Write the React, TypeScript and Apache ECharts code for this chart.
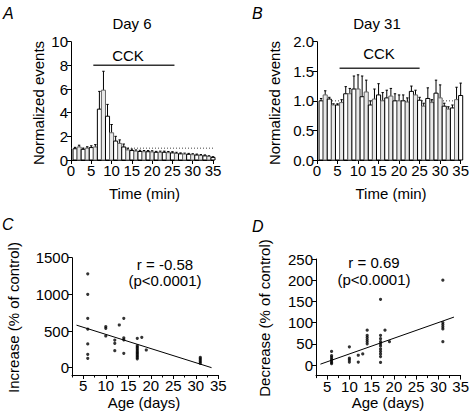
import React, { useEffect, useRef } from "react";
import * as echarts from "echarts";

const FONT = "Liberation Sans, Arial, Helvetica, sans-serif";

// Panel A / B: time bins (min)
const minutes = [1, 2, 3, 4, 5, 6, 7, 8, 9, 10, 11, 12, 13, 14, 15, 16, 17, 18, 19, 20, 21, 22, 23, 24, 25, 26, 27, 28, 29, 30, 31, 32, 33, 34, 35];
const day6Mean = [0.95, 1.1, 0.9, 1.0, 1.05, 1.1, 4.3, 5.9, 3.7, 2.3, 1.6, 1.4, 1.1, 0.85, 0.8, 0.75, 0.72, 0.7, 0.7, 0.68, 0.65, 0.65, 0.65, 0.62, 0.6, 0.55, 0.52, 0.5, 0.48, 0.45, 0.42, 0.38, 0.35, 0.3, 0.22];
const day6Err = [0.12, 0.15, 0.1, 0.12, 0.15, 0.2, 1.5, 1.6, 1.0, 0.7, 0.4, 0.3, 0.25, 0.15, 0.12, 0.1, 0.1, 0.1, 0.1, 0.1, 0.08, 0.1, 0.1, 0.1, 0.1, 0.1, 0.08, 0.08, 0.08, 0.08, 0.08, 0.08, 0.08, 0.06, 0.06];
const day31Mean = [1.0, 1.1, 1.03, 0.93, 0.93, 0.97, 1.12, 1.12, 1.2, 1.2, 1.07, 1.15, 0.93, 1.03, 1.1, 1.0, 1.05, 1.08, 1.0, 1.0, 1.0, 0.98, 1.16, 1.1, 1.01, 0.91, 1.04, 0.97, 1.13, 1.05, 0.91, 0.86, 0.88, 1.02, 1.09];
const day31Err = [0.04, 0.07, 0.03, 0.02, 0.02, 0.05, 0.12, 0.09, 0.22, 0.24, 0.35, 0.2, 0.07, 0.17, 0.19, 0.14, 0.13, 0.13, 0.12, 0.1, 0.1, 0.07, 0.09, 0.08, 0.05, 0.05, 0.18, 0.05, 0.22, 0.22, 0.05, 0.04, 0.05, 0.21, 0.21];
const cckA = [[5.5, 8], [25.5, 8]];
const cckB = [[5.5, 1.55], [25, 1.55]];
const baselineA = [[0, 1], [35, 1]];
const baselineB = [[0, 1], [35, 1]];

// Panel C: increase (% of control) vs age (days)
const incAges = [6, 6, 6, 6, 6, 6, 6, 10, 10, 10, 12, 12, 12, 13, 14, 14, 14, 14, 17, 17, 17, 17, 17, 17, 17, 17, 17, 17, 17, 18, 19, 31, 31, 31, 31, 31];
const incValues = [1280, 1000, 673, 527, 323, 182, 128, 560, 537, 432, 377, 332, 232, 582, 673, 405, 380, 196, 400, 300, 280, 260, 240, 220, 200, 180, 160, 140, 120, 414, 241, 140, 120, 100, 80, 60];
const incFit = [[3.5, 580], [33.5, 0]];

// Panel D: decrease (% of control) vs age (days)
const decAges = [6, 6, 6, 6, 6, 6, 6, 10, 10, 10, 10, 12, 12, 13, 14, 14, 14, 14, 14, 14, 17, 17, 17, 17, 17, 17, 17, 17, 17, 17, 17, 18, 19, 31, 31, 31, 31, 31, 31];
const decValues = [32, 22, 18, 14, 10, 6, 3, 43, 16, 12, 7, 23, 7, 26, 82, 70, 65, 60, 55, 50, 155, 70, 62, 55, 50, 45, 38, 32, 26, 20, 6, 82, 55, 200, 100, 95, 90, 85, 55];
const decFit = [[3.5, 2], [33.5, 113]];

const ageLabelTicks = [5, 10, 15, 20, 25, 30, 35];
const ageMinorTicks = [2.5, 7.5, 12.5, 17.5, 22.5, 27.5, 32.5];
const incTicks = [0, 500, 1000, 1500];
const decTicks = [0, 50, 100, 150, 200, 250];

const zip = (a: number[], b: number[], c?: number[]) => a.map((v, i) => (c ? [v, b[i], c[i]] : [v, b[i]]));

const barRenderer = (params: any, api: any) => {
  const x = api.value(0);
  const y = api.value(1);
  const e = api.value(2);
  const tl = api.coord([x - 0.5, y]);
  const br = api.coord([x + 0.5, 0]);
  const top = api.coord([x, y + e]);
  const cx = (tl[0] + br[0]) / 2;
  const even = params.dataIndex % 2 === 0;
  return {
    type: "group",
    children: [
      { type: "line", shape: { x1: cx, y1: tl[1], x2: cx, y2: top[1] }, style: { stroke: "#000", lineWidth: 1 } },
      { type: "line", shape: { x1: cx - 1.2, y1: top[1], x2: cx + 1.2, y2: top[1] }, style: { stroke: "#000", lineWidth: 1 } },
      {
        type: "rect",
        shape: { x: tl[0], y: tl[1], width: br[0] - tl[0], height: br[1] - tl[1] },
        style: { fill: even ? "#fff" : "#e8e8e8", stroke: even ? "#000" : "#666", lineWidth: 1 },
      },
    ],
  };
};

const axisLine = { show: true, onZero: false, lineStyle: { color: "#000", width: 1 } };
const axisTick = { show: true, length: 4, lineStyle: { color: "#000", width: 1 } };
const axisLabel = { color: "#000", fontSize: 15, fontFamily: FONT, margin: 3 };
const plain = (v: number) => String(v);

const txt = (text: string, x: number, y: number, extra: any = {}) => ({
  type: "text",
  x,
  y,
  style: { text, fill: "#000", font: `15px ${FONT}`, align: "center", verticalAlign: "middle", ...extra },
});
const vtxt = (text: string, x: number, y: number) => ({
  type: "text",
  x,
  y,
  rotation: Math.PI / 2,
  style: { text, fill: "#000", font: `15px ${FONT}`, align: "center", verticalAlign: "middle" },
});
const letter = (text: string, x: number, y: number) => ({
  type: "text",
  x,
  y,
  style: { text, fill: "#000", font: `italic 16px ${FONT}`, align: "left", verticalAlign: "middle" },
});

export default function App() {
  const ref = useRef<HTMLDivElement>(null);
  useEffect(() => {
    const chart = echarts.init(ref.current!, null, { renderer: "svg" });
    const option: any = {
      animation: false,
      backgroundColor: "#fff",
      grid: [
        { left: 71, top: 41.7, width: 142, height: 118.3 },
        { left: 317, top: 41.7, width: 145.7, height: 118.3 },
        { left: 72, top: 257.7, width: 146.3, height: 117.3 },
        { left: 316, top: 259, width: 147, height: 116.6 },
      ],
      xAxis: [
        { gridIndex: 0, type: "value", min: 0, max: 35, interval: 5, axisLine, axisTick, axisLabel, splitLine: { show: false } },
        { gridIndex: 1, type: "value", min: 0, max: 35, interval: 5, axisLine, axisTick, axisLabel, splitLine: { show: false } },
        {
          gridIndex: 2, type: "value", min: 2.5, max: 35, position: "bottom", axisLine,
          axisTick: { ...axisTick, customValues: ageLabelTicks },
          axisLabel: { ...axisLabel, customValues: ageLabelTicks }, splitLine: { show: false },
        },
        {
          gridIndex: 2, type: "value", min: 2.5, max: 35, position: "bottom", axisLine: { show: false, onZero: false },
          axisTick: { ...axisTick, length: 2.5, customValues: ageMinorTicks },
          axisLabel: { show: false }, splitLine: { show: false },
        },
        {
          gridIndex: 3, type: "value", min: 2.5, max: 35, position: "bottom", axisLine,
          axisTick: { ...axisTick, customValues: ageLabelTicks },
          axisLabel: { ...axisLabel, customValues: ageLabelTicks }, splitLine: { show: false },
        },
        {
          gridIndex: 3, type: "value", min: 2.5, max: 35, position: "bottom", axisLine: { show: false, onZero: false },
          axisTick: { ...axisTick, length: 2.5, customValues: ageMinorTicks },
          axisLabel: { show: false }, splitLine: { show: false },
        },
      ],
      yAxis: [
        { gridIndex: 0, type: "value", min: 0, max: 10, interval: 2, axisLine, axisTick, axisLabel, splitLine: { show: false } },
        {
          gridIndex: 1, type: "value", min: 0, max: 2, interval: 0.5, axisLine, axisTick,
          axisLabel: { ...axisLabel, formatter: (v: number) => v.toFixed(1) }, splitLine: { show: false },
        },
        {
          gridIndex: 2, type: "value", min: -100, max: 1500, axisLine,
          axisTick: { ...axisTick, customValues: incTicks },
          axisLabel: { ...axisLabel, customValues: incTicks, formatter: plain }, splitLine: { show: false },
        },
        {
          gridIndex: 3, type: "value", min: -25, max: 250, axisLine,
          axisTick: { ...axisTick, customValues: decTicks },
          axisLabel: { ...axisLabel, customValues: decTicks, formatter: plain }, splitLine: { show: false },
        },
      ],
      series: [
        {
          type: "line", xAxisIndex: 0, yAxisIndex: 0, data: baselineA, symbol: "none", z: 1,
          lineStyle: { color: "#444", width: 1, type: [1, 2] },
        },
        {
          type: "custom", xAxisIndex: 0, yAxisIndex: 0, renderItem: barRenderer, z: 3,
          data: zip(minutes, day6Mean, day6Err), encode: { x: 0, y: [1, 2] },
        },
        {
          type: "line", xAxisIndex: 0, yAxisIndex: 0, data: cckA, symbol: "none", z: 4,
          lineStyle: { color: "#333", width: 1.5 },
        },
        {
          type: "line", xAxisIndex: 1, yAxisIndex: 1, data: baselineB, symbol: "none", z: 1,
          lineStyle: { color: "#444", width: 1, type: [1, 2] },
        },
        {
          type: "custom", xAxisIndex: 1, yAxisIndex: 1, renderItem: barRenderer, z: 3,
          data: zip(minutes, day31Mean, day31Err), encode: { x: 0, y: [1, 2] },
        },
        {
          type: "line", xAxisIndex: 1, yAxisIndex: 1, data: cckB, symbol: "none", z: 4,
          lineStyle: { color: "#333", width: 1.5 },
        },
        {
          type: "scatter", xAxisIndex: 2, yAxisIndex: 2, data: zip(incAges, incValues),
          symbol: "circle", symbolSize: 3.2, itemStyle: { color: "#000" },
        },
        {
          type: "line", xAxisIndex: 2, yAxisIndex: 2, data: incFit, symbol: "none",
          lineStyle: { color: "#000", width: 1 },
        },
        {
          type: "scatter", xAxisIndex: 4, yAxisIndex: 3, data: zip(decAges, decValues),
          symbol: "circle", symbolSize: 3.2, itemStyle: { color: "#000" },
        },
        {
          type: "line", xAxisIndex: 4, yAxisIndex: 3, data: decFit, symbol: "none",
          lineStyle: { color: "#000", width: 1 },
        },
      ],
      graphic: [
        letter("A", 3, 13),
        letter("B", 252, 13),
        letter("C", 2, 224),
        letter("D", 252, 226),
        txt("Day 6", 132, 23),
        txt("Day 31", 377, 23),
        txt("CCK", 128, 55),
        txt("CCK", 379, 53),
        txt("Time (min)", 144.5, 193),
        txt("Time (min)", 391, 193),
        txt("Age (days)", 144, 402),
        txt("Age (days)", 388, 402),
        vtxt("Normalized events", 38.5, 103),
        vtxt("Normalized events", 274, 103),
        vtxt("Increase (% of control)", 13, 317.5),
        vtxt("Decrease (% of control)", 264, 318),
        txt("r = -0.58\n(p<0.0001)", 165, 272.5, { lineHeight: 16 }),
        txt("r = 0.69\n(p<0.0001)", 374, 271, { lineHeight: 17 }),
      ],
    };
    chart.setOption(option);
    return () => chart.dispose();
  }, []);
  return (
    <div
      ref={ref}
      style={{ position: "fixed", left: 0, top: 0, width: 472, height: 418, background: "#fff" }}
    />
  );
}
